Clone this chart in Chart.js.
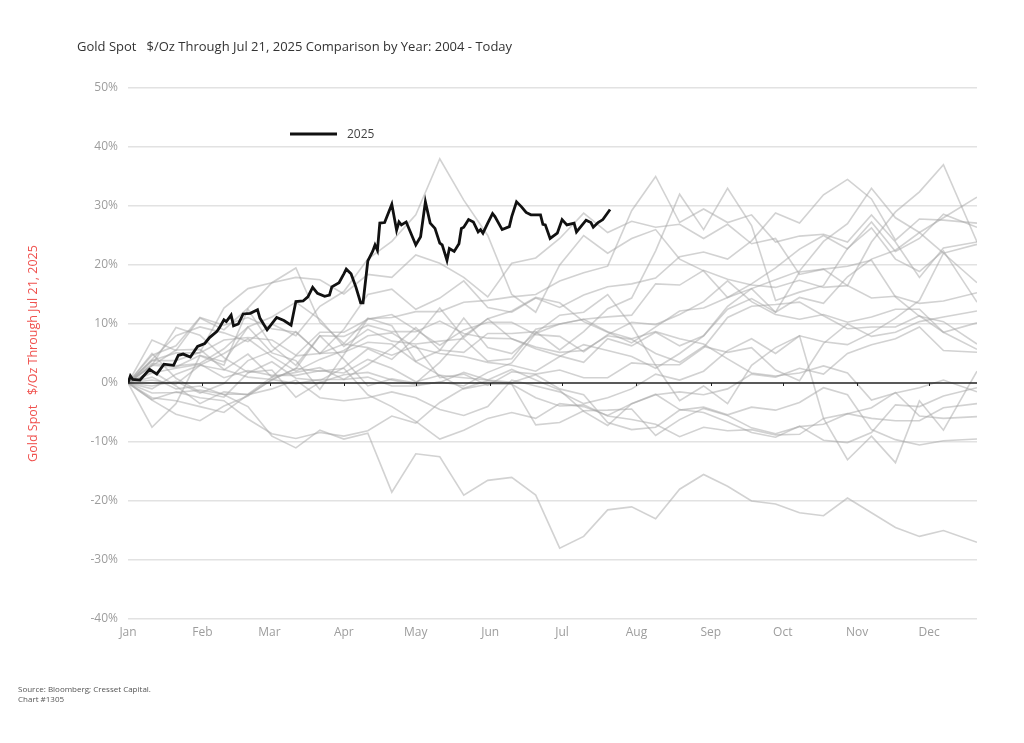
<!DOCTYPE html>
<html>
<head>
<meta charset="utf-8">
<title>Gold Spot Comparison by Year</title>
<script src="https://cdn.jsdelivr.net/npm/chart.js@4.4.1/dist/chart.umd.min.js"></script>
<style>
    html, body { margin: 0; padding: 0; background: #fff; }
    body { width: 1024px; height: 743px; position: relative; overflow: hidden; font-family: 'Open Sans', sans-serif; }
    #title { position: absolute; left: 77px; top: 37px; font-size: 13px; color: #333; white-space: pre; }
    #source { position: absolute; left: 18px; top: 684px; font-size: 8px; line-height: 10px; color: #555; }
    #wrap { position: absolute; left: 0; top: 0; width: 1024px; height: 743px; }
</style>
</head>
<body>
<div id="wrap"><canvas id="gold-chart"></canvas></div>
<div id="title">Gold Spot   $/Oz Through Jul 21, 2025 Comparison by Year: 2004 - Today</div>
<div id="source">Source: Bloomberg; Cresset Capital.<br>Chart #1305</div>
<script>
// x = calendar day of the year, y = % change since the prior year-end
const monthLabels = ['Jan', 'Feb', 'Mar', 'Apr', 'May', 'Jun', 'Jul', 'Aug', 'Sep', 'Oct', 'Nov', 'Dec'];
const monthStarts = [0, 31, 59, 90, 120, 151, 181, 212, 243, 273, 304, 334];
const yTitle = 'Gold Spot   $/Oz Through Jul 21, 2025';

// 2025 (through Jul 21)
const days2025 = [0, 1, 2, 5, 9, 12, 15, 19, 21, 23, 26, 29, 32, 34, 37, 38, 40, 41, 43, 44, 46, 48, 51, 54, 55, 58, 62, 65, 68, 70,
    73, 75, 77, 79, 82, 84, 85, 88, 90, 91, 93, 95, 97, 98, 100, 102, 103, 104, 105, 107, 110, 112, 113, 114, 116, 120, 122, 124, 126, 128,
    130, 131, 133, 134, 136, 138, 139, 140, 142, 144, 146, 147, 148, 150, 152, 153, 156, 159, 160, 162, 164, 166, 168, 172, 173, 174, 176, 179, 181, 183,
    186, 187, 191, 193, 194, 196, 198, 201];
const gold2025 = [0, 1.2, 0.6, 0.5, 2.3, 1.5, 3.2, 3.0, 4.7, 4.9, 4.4, 6.2, 6.7, 7.7, 8.7, 9.3, 10.7, 10.4, 11.5, 9.7, 10.0, 11.7, 11.8, 12.4, 11.0, 9.0, 11.1, 10.6, 9.8, 13.8,
    13.9, 14.6, 16.2, 15.2, 14.7, 14.9, 16.3, 17.0, 18.5, 19.3, 18.5, 16.3, 13.6, 13.6, 20.7, 22.3, 23.4, 22.5, 27.1, 27.2, 30.3, 25.9, 27.3, 26.8, 27.3, 23.4, 24.8, 30.7, 27.1, 26.2,
    23.7, 23.4, 20.8, 22.8, 22.3, 23.6, 26.2, 26.4, 27.7, 27.3, 25.6, 26.0, 25.4, 27.1, 28.7, 28.2, 26.0, 26.5, 28.2, 30.7, 29.9, 28.9, 28.5, 28.5, 26.9, 26.8, 24.5, 25.4, 27.7, 26.8,
    27.1, 25.6, 27.6, 27.2, 26.4, 27.2, 27.7, 29.4];

// earlier years, sampled every 10 days
const greyDays = [0, 10, 20, 30, 40, 50, 60, 70, 80, 90, 100, 110, 120, 130, 140, 150, 160, 170, 180, 190,
    200, 210, 220, 230, 240, 250, 260, 270, 280, 290, 300, 310, 320, 330, 340, 354];
const y2004 = [0, 2.0, -0.5, -3.5, -1.5, -2.0, 0.5, 2.5, 2.0, 2.5, -2.0, -4.0, -6.5, -9.5, -8.0, -6.0, -5.0, -6.0, -3.5, -4.0, -5.5, -3.5, -2.0, -1.5, -2.0, -1.0, 1.5, 1.0, 2.5, 1.5, 5.0, 6.5, 7.5, 9.5, 5.5, 5.2];
const y2005 = [0, -2.5, -3.0, -4.0, -5.0, -2.0, -1.0, 0.5, -2.5, -3.0, -2.5, -1.5, -2.5, -4.5, -5.5, -4.0, 0.5, -0.5, -1.5, -3.5, -2.5, -1.0, 1.5, 0.5, 2.0, 5.5, 7.5, 5.0, 8.0, 7.0, 6.5, 8.5, 11.0, 14.0, 22.0, 17.0];
const y2006 = [0, 4.0, 8.0, 9.5, 8.5, 7.0, 10.0, 8.0, 13.0, 15.5, 21.0, 24.0, 28.5, 38.0, 31.0, 25.0, 15.0, 12.0, 20.0, 25.0, 22.0, 24.5, 26.0, 21.0, 19.0, 14.5, 16.0, 12.0, 14.5, 13.5, 18.0, 21.0, 22.5, 25.5, 22.0, 23.5];
const y2007 = [0, -1.0, 1.5, 3.0, 5.0, 7.5, 4.5, 2.0, 4.0, 5.5, 8.0, 8.5, 6.0, 5.0, 4.5, 3.5, 3.0, 2.0, 4.5, 6.5, 5.5, 4.5, 2.5, 5.0, 8.0, 13.0, 16.0, 17.5, 19.0, 24.0, 27.0, 33.0, 28.0, 25.5, 28.0, 31.5];
const y2008 = [0, 7.3, 5.5, 11.0, 9.0, 12.7, 17.0, 19.5, 10.3, 6.7, 11.0, 9.7, 3.7, 5.5, 11.0, 6.0, 5.0, 8.5, 11.5, 12.0, 15.0, 9.7, 3.0, -3.0, -0.5, -3.5, 3.0, 6.0, 8.0, -6.0, -13.0, -9.0, -13.5, -3.0, -8.0, 2.0];
const y2009 = [0, -7.5, -3.5, 4.6, 3.0, 12.5, 6.3, 3.0, 8.0, 4.0, -0.5, 0.7, 0.0, 3.5, 8.0, 10.9, 7.5, 5.8, 4.6, 3.5, 7.5, 6.3, 8.6, 6.3, 8.0, 12.5, 14.3, 12.0, 18.8, 19.3, 16.5, 23.9, 29.0, 32.4, 37.0, 23.9];
const y2010 = [0, 5.0, 0.8, -1.5, -2.4, 1.7, 3.6, 0.8, 0.4, 2.6, 5.8, 4.0, 7.7, 12.7, 7.7, 10.9, 12.2, 14.5, 13.6, 10.4, 8.6, 6.8, 9.5, 12.2, 12.7, 14.5, 16.8, 19.5, 22.7, 25.0, 22.7, 27.3, 22.3, 24.5, 28.6, 26.4];
const y2011 = [0, -2.9, -5.3, -6.4, -3.9, -2.2, 0.6, -0.1, 0.6, 0.6, 3.1, 5.9, 9.4, 5.6, 5.2, 8.4, 8.4, 8.7, 5.6, 8.7, 12.6, 14.4, 22.4, 32.0, 26.0, 33.0, 26.7, 14.0, 15.4, 16.5, 22.8, 26.3, 21.0, 18.9, 22.4, 13.7];
const y2012 = [0, 4.7, 6.3, 11.1, 9.8, 11.1, 9.2, 8.6, 5.0, 6.6, 6.0, 4.7, 6.3, 0.9, 1.5, -0.4, 1.9, 1.5, 2.2, 0.9, 0.9, 3.4, 3.1, 3.1, 6.0, 11.1, 13.0, 13.3, 13.7, 11.4, 9.2, 9.5, 9.5, 11.4, 8.6, 5.7];
const y2013 = [0, 1.0, -1.0, -0.5, -2.0, -4.0, -9.0, -11.0, -8.0, -9.5, -8.5, -18.5, -12.0, -12.5, -19.0, -16.5, -16.0, -19.0, -28.0, -26.0, -21.5, -21.0, -23.0, -18.0, -15.5, -17.5, -20.0, -20.5, -22.0, -22.5, -19.5, -22.0, -24.5, -26.0, -25.0, -27.0];
const y2014 = [0, 3.3, 2.9, 3.3, 5.8, 9.5, 11.2, 13.7, 10.8, 6.2, 9.1, 7.1, 6.6, 7.1, 7.5, 3.7, 4.1, 9.1, 10.0, 10.8, 8.7, 7.5, 8.7, 7.5, 6.6, 4.1, 1.7, 1.2, 1.7, 2.9, 1.7, -2.9, -1.7, -0.8, 0.5, -1.5];
const y2015 = [0, 3.0, 9.4, 8.1, 4.3, 1.8, 2.2, -2.4, 0.1, 1.4, 1.8, 0.5, -0.3, 0.1, 1.8, 0.5, 0.1, 1.4, -1.0, -2.0, -6.7, -7.9, -7.5, -4.6, -4.1, -5.4, -4.1, -4.6, -3.3, -0.8, -2.0, -7.9, -9.6, -10.5, -9.8, -9.5];
const y2016 = [0, 3.8, 3.8, 5.2, 12.7, 16.0, 17.0, 17.9, 17.5, 15.1, 18.4, 17.9, 21.7, 20.3, 17.9, 14.6, 20.3, 21.2, 24.5, 28.8, 25.5, 27.4, 26.4, 26.9, 24.5, 26.9, 23.6, 24.5, 18.4, 19.3, 19.8, 20.8, 14.6, 11.3, 10.4, 6.6];
const y2017 = [0, 3.8, 5.1, 5.1, 7.3, 7.7, 7.3, 4.7, 8.6, 8.6, 10.8, 11.6, 9.0, 6.4, 9.0, 10.3, 10.3, 8.2, 7.9, 5.3, 8.2, 10.3, 9.9, 11.6, 13.8, 17.3, 13.8, 11.6, 10.8, 11.6, 10.3, 11.2, 12.5, 12.5, 8.6, 10.2];
const y2018 = [0, 1.7, 2.5, 3.2, 0.9, 2.1, 1.3, 1.3, 2.1, 1.7, 4.0, 2.5, 0.2, 1.3, -1.0, -0.2, -0.2, -2.5, -3.9, -3.7, -5.6, -6.2, -7.0, -9.1, -7.5, -8.1, -7.9, -8.8, -8.7, -6.0, -5.2, -6.0, -6.4, -6.4, -4.2, -3.5];
const y2019 = [0, 0.5, -0.2, 3.0, 2.2, 4.9, 1.0, 1.8, 2.6, 0.6, 1.0, -0.5, -0.5, 0.2, -0.5, 1.8, 3.4, 8.4, 10.0, 10.8, 11.2, 11.5, 16.8, 16.6, 19.1, 17.6, 16.6, 16.2, 17.4, 16.2, 16.5, 14.4, 14.7, 13.5, 13.9, 15.3];
const y2020 = [0, 3.0, 2.7, 4.7, 3.6, 9.5, 5.1, 3.8, -1.1, 4.8, 10.9, 11.1, 12.1, 12.1, 13.7, 14.0, 14.6, 15.0, 17.3, 18.7, 19.8, 29.2, 35.0, 27.2, 29.5, 27.2, 28.5, 23.9, 24.9, 25.2, 23.9, 28.5, 23.9, 17.9, 22.9, 23.9];
const y2021 = [0, -2.8, -1.5, -2.5, -3.0, -6.1, -8.6, -9.4, -8.4, -9.0, -8.1, -5.6, -6.8, -3.3, -0.9, 0.4, -0.2, -7.1, -6.7, -4.7, -4.6, -4.4, -8.9, -6.2, -4.3, -5.5, -7.6, -8.6, -7.4, -7.0, -5.2, -4.2, -1.6, -5.6, -6.0, -5.7];
const y2022 = [0, -0.5, 0.3, -1.7, -0.1, 3.8, 5.4, 8.7, 5.0, 5.2, 6.9, 6.6, 3.6, 1.3, 0.9, 0.5, 2.3, 0.5, -1.2, -4.8, -7.2, -3.5, -1.9, -4.5, -5.0, -6.6, -8.4, -9.2, -7.3, -9.7, -10.1, -8.4, -3.7, -4.0, -2.2, -0.8];
const y2023 = [0, 2.9, 5.6, 5.7, 2.3, 1.0, 0.6, 2.4, 8.0, 7.9, 9.8, 8.7, 8.7, 10.5, 8.4, 7.6, 7.5, 6.1, 5.2, 5.5, 8.0, 7.4, 5.0, 3.5, 6.2, 5.2, 6.0, 2.2, 0.4, 6.7, 10.0, 7.9, 8.6, 10.4, 11.2, 12.2];
const y2024 = [0, -1.7, -1.6, -1.2, -1.9, -1.9, 1.0, 4.6, 5.0, 9.1, 15.0, 15.9, 12.5, 14.4, 17.3, 12.8, 12.0, 14.4, 12.8, 14.9, 16.3, 16.8, 17.8, 21.4, 22.2, 21.0, 24.1, 28.8, 27.1, 31.9, 34.5, 31.2, 24.2, 27.8, 27.6, 27.1];

const greyYears = ['2004', '2005', '2006', '2007', '2008', '2009', '2010', '2011', '2012', '2013', '2014',
    '2015', '2016', '2017', '2018', '2019', '2020', '2021', '2022', '2023', '2024'];
const greySeries = [y2004, y2005, y2006, y2007, y2008, y2009, y2010, y2011, y2012, y2013, y2014,
    y2015, y2016, y2017, y2018, y2019, y2020, y2021, y2022, y2023, y2024];

let datasets = [{
    label: '2025',
    data: days2025.map((d, i) => ({ x: d, y: gold2025[i] })),
    borderColor: '#111',
    borderWidth: 2.8,
    pointRadius: 0,
    order: 0
}];
greyYears.forEach((yr, k) => {
    datasets.push({
        label: yr,
        data: greyDays.map((d, i) => ({ x: d, y: greySeries[k][i] })),
        borderColor: 'rgba(165, 165, 165, 0.5)',
        borderWidth: 1.6,
        pointRadius: 0,
        order: 1
    });
});

// black zero line with small month ticks
const zero_line = {
    id: 'zero_line',
    afterDatasetsDraw(chart) {
        const { ctx, chartArea, scales: { x, y } } = chart;
        const py = y.getPixelForValue(0);
        ctx.save();
        ctx.strokeStyle = '#222';
        ctx.lineWidth = 1.6;
        ctx.beginPath();
        ctx.moveTo(chartArea.left, py);
        ctx.lineTo(chartArea.right, py);
        ctx.stroke();
        ctx.lineWidth = 1;
        ctx.beginPath();
        monthStarts.slice(1).forEach(d => {
            const px = Math.round(x.getPixelForValue(d)) + 0.5;
            ctx.moveTo(px, py);
            ctx.lineTo(px, py + 3);
        });
        ctx.stroke();
        ctx.restore();
    }
};

// legend only for the current year, inside the plot
const legend_2025 = {
    id: 'legend_2025',
    afterDraw(chart) {
        const { ctx, chartArea } = chart;
        const x0 = chartArea.left + 162;
        const y0 = chartArea.top + 46;
        ctx.save();
        ctx.strokeStyle = '#111';
        ctx.lineWidth = 3;
        ctx.beginPath();
        ctx.moveTo(x0, y0);
        ctx.lineTo(x0 + 47, y0);
        ctx.stroke();
        ctx.fillStyle = '#444';
        ctx.font = '12px "Open Sans"';
        ctx.textBaseline = 'middle';
        ctx.fillText(datasets[0].label, x0 + 57, y0 + 1);
        ctx.restore();
    }
};

const tickFont = { family: 'Open Sans', size: 12 };

new Chart(document.getElementById('gold-chart').getContext('2d'), {
    type: 'line',
    data: { datasets: datasets },
    options: {
        responsive: true,
        maintainAspectRatio: false,
        animation: false,
        layout: { padding: { left: 26, top: 88, right: 47, bottom: 94 } },
        plugins: {
            legend: { display: false },
            tooltip: { enabled: false },
            title: { display: false }
        },
        scales: {
            x: {
                type: 'linear',
                min: 0,
                max: 354,
                grid: { display: false, drawTicks: false },
                border: { display: false },
                afterBuildTicks: (scale) => {
                    scale.ticks = monthStarts.map(v => ({ value: v }));
                },
                ticks: {
                    autoSkip: false,
                    maxRotation: 0,
                    padding: 6,
                    color: '#9d9d9d',
                    font: tickFont,
                    callback: (value, index) => monthLabels[index]
                },
                afterFit: (scale) => { scale.height = 30; }
            },
            y: {
                min: -40,
                max: 50,
                ticks: {
                    stepSize: 10,
                    padding: 10,
                    color: '#9d9d9d',
                    font: tickFont,
                    callback: (value) => value + '%'
                },
                grid: {
                    drawTicks: false,
                    color: (ctx) => ctx.tick && ctx.tick.value === 0 ? 'rgba(0,0,0,0)' : '#e2e2e2',
                    lineWidth: 1.5
                },
                border: { display: false },
                title: {
                    display: true,
                    text: yTitle,
                    color: '#f0524f',
                    font: { family: 'Open Sans', size: 12.5 },
                    padding: { top: 0, bottom: 0 }
                },
                afterFit: (scale) => { scale.width = 102; }
            }
        }
    },
    plugins: [zero_line, legend_2025]
});
</script>
</body>
</html>
